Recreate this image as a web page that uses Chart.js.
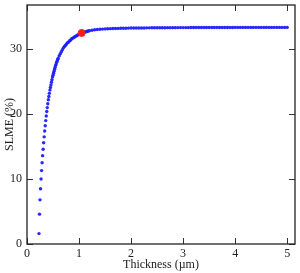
<!DOCTYPE html>
<html>
<head>
<meta charset="utf-8">
<script src="https://cdn.jsdelivr.net/npm/chart.js@4"></script>
<style>
  html, body { margin: 0; padding: 0; background: #fff; }
  #wrap { width: 300px; height: 273px; }
</style>
</head>
<body>
<div id="wrap"><canvas id="slmeChart"></canvas></div>
<script>
// thickness in µm, SLME in %
const thickness = [
  0.23, 0.24, 0.25, 0.26, 0.27, 0.28, 0.29, 0.30, 0.31, 0.32,
  0.33, 0.34, 0.35, 0.36, 0.37, 0.38, 0.39, 0.40, 0.41, 0.42,
  0.43, 0.44, 0.45, 0.46, 0.47, 0.48, 0.49, 0.50, 0.51, 0.52,
  0.53, 0.54, 0.55, 0.56, 0.57, 0.58, 0.59, 0.60, 0.62, 0.64,
  0.66, 0.68, 0.70, 0.72, 0.74, 0.76, 0.78, 0.80, 0.82, 0.84,
  0.86, 0.88, 0.90, 0.92, 0.94, 0.96, 0.98, 1.00, 1.02, 1.04,
  1.06, 1.08, 1.10, 1.12, 1.14, 1.16, 1.18, 1.20, 1.25, 1.30,
  1.35, 1.40, 1.45, 1.50, 1.55, 1.60, 1.65, 1.70, 1.75, 1.80,
  1.85, 1.90, 1.95, 2.00, 2.05, 2.10, 2.15, 2.20, 2.25, 2.30,
  2.35, 2.40, 2.45, 2.50, 2.55, 2.60, 2.65, 2.70, 2.75, 2.80,
  2.85, 2.90, 2.95, 3.00, 3.05, 3.10, 3.15, 3.20, 3.25, 3.30,
  3.35, 3.40, 3.45, 3.50, 3.55, 3.60, 3.65, 3.70, 3.75, 3.80,
  3.85, 3.90, 3.95, 4.00, 4.05, 4.10, 4.15, 4.20, 4.25, 4.30,
  4.35, 4.40, 4.45, 4.50, 4.55, 4.60, 4.65, 4.70, 4.75, 4.80,
  4.85, 4.90, 4.95, 5.00
];
const slme = [
  1.6, 4.6, 6.8, 8.5, 10.0, 11.3, 12.5, 13.6, 14.6, 15.6,
  16.5, 17.4, 18.2, 19.0, 19.7, 20.4, 21.0, 21.6, 22.2, 22.7,
  23.2, 23.7, 24.1, 24.5, 24.9, 25.3, 25.7, 26.0, 26.3, 26.6,
  26.9, 27.2, 27.5, 27.7, 28.0, 28.2, 28.4, 28.6, 29.0, 29.3,
  29.6, 29.9, 30.2, 30.4, 30.6, 30.8, 31.0, 31.1, 31.3, 31.4,
  31.6, 31.7, 31.8, 31.9, 32.0, 32.1, 32.2, 32.3, 32.35, 32.4,
  32.5, 32.55, 32.6, 32.65, 32.7, 32.75, 32.8, 32.85, 32.92, 32.98,
  33.02, 33.06, 33.09, 33.12, 33.14, 33.16, 33.18, 33.19, 33.2, 33.21,
  33.22, 33.23, 33.24, 33.25, 33.25, 33.26, 33.26, 33.27, 33.27, 33.28,
  33.28, 33.29, 33.29, 33.3, 33.3, 33.3, 33.3, 33.31, 33.31, 33.31,
  33.31, 33.32, 33.32, 33.32, 33.32, 33.32, 33.33, 33.33, 33.33, 33.33,
  33.33, 33.33, 33.33, 33.34, 33.34, 33.34, 33.34, 33.34, 33.34, 33.34,
  33.34, 33.34, 33.34, 33.35, 33.35, 33.35, 33.35, 33.35, 33.35, 33.35,
  33.35, 33.35, 33.35, 33.35, 33.35, 33.35, 33.35, 33.35, 33.35, 33.35,
  33.35, 33.35, 33.35, 33.35
];
// marked point
const markThickness = [1.05];
const markSlme = [32.5];

const xMajor = [0, 1, 2, 3, 4, 5];
const yMajor = [0, 10, 20, 30];

const serif = "'Liberation Serif', 'DejaVu Serif', serif";

// ticks pointing into the plot on all four sides + frame
const insideTicks = {
  id: 'insideTicks',
  afterDraw(chart) {
    const { ctx, chartArea: a, scales } = chart;
    ctx.save();
    ctx.strokeStyle = '#333';
    ctx.lineWidth = 1;
    scales.x.ticks.forEach(t => {
      const px = Math.round(scales.x.getPixelForValue(t.value)) + 0.5;
      const len = xMajor.includes(t.value) ? 6 : 3;
      ctx.beginPath();
      ctx.moveTo(px, a.bottom); ctx.lineTo(px, a.bottom - len);
      ctx.moveTo(px, a.top); ctx.lineTo(px, a.top + len);
      ctx.stroke();
    });
    scales.y.ticks.forEach(t => {
      const py = Math.round(scales.y.getPixelForValue(t.value)) + 0.5;
      const len = yMajor.includes(t.value) ? 6 : 3;
      ctx.beginPath();
      ctx.moveTo(a.left, py); ctx.lineTo(a.left + len, py);
      ctx.moveTo(a.right, py); ctx.lineTo(a.right - len, py);
      ctx.stroke();
    });
    ctx.lineWidth = 1.3;
    ctx.strokeStyle = '#222';
    ctx.strokeRect(a.left, a.top, a.right - a.left, a.bottom - a.top);
    ctx.restore();
  }
};

new Chart(document.getElementById('slmeChart'), {
  type: 'scatter',
  data: {
    datasets: [
      {
        label: 'marked',
        data: markThickness.map((x, i) => ({ x: x, y: markSlme[i] })),
        backgroundColor: '#ff1a1a',
        borderColor: '#ff1a1a',
        pointRadius: 3.5,
        order: 0
      },
      {
        label: 'SLME',
        data: thickness.map((x, i) => ({ x: x, y: slme[i] })),
        backgroundColor: 'rgba(30, 30, 255, 0.95)',
        borderColor: 'rgba(30, 30, 255, 0.95)',
        pointRadius: 1.7,
        borderWidth: 0,
        order: 1
      }
    ]
  },
  options: {
    responsive: true,
    maintainAspectRatio: false,
    animation: false,
    layout: { padding: { top: 0, right: 3, left: 0, bottom: 0 } },
    plugins: {
      legend: { display: false },
      tooltip: { enabled: false }
    },
    scales: {
      x: {
        type: 'linear',
        min: 0,
        max: 5.15,
        afterFit: s => { s.height = 29; s.paddingLeft = 0; s.paddingRight = 0; },
        grid: { display: false, drawTicks: false },
        border: { display: false },
        ticks: {
          stepSize: 0.5,
          includeBounds: false,
          autoSkip: false,
          maxRotation: 0,
          padding: 3,
          color: '#222',
          font: { family: serif, size: 12 },
          callback: v => (xMajor.includes(v) ? String(v) : null)
        },
        title: {
          display: true,
          text: 'Thickness (µm)',
          color: '#222',
          padding: { top: 0, bottom: 1 },
          font: { family: serif, size: 12 }
        }
      },
      y: {
        min: 0,
        max: 36.8,
        afterFit: s => { s.width = 27; s.paddingTop = 0; s.paddingBottom = 0; },
        grid: { display: false, drawTicks: false },
        border: { display: false },
        ticks: {
          stepSize: 5,
          includeBounds: false,
          autoSkip: false,
          padding: 5,
          color: '#222',
          font: { family: serif, size: 12 },
          callback: v => (yMajor.includes(v) ? String(v) : null)
        },
        title: {
          display: true,
          text: 'SLME (%)',
          color: '#222',
          padding: { top: 3, bottom: 0 },
          font: { family: serif, size: 12 }
        }
      }
    }
  },
  plugins: [insideTicks]
});
</script>
</body>
</html>
